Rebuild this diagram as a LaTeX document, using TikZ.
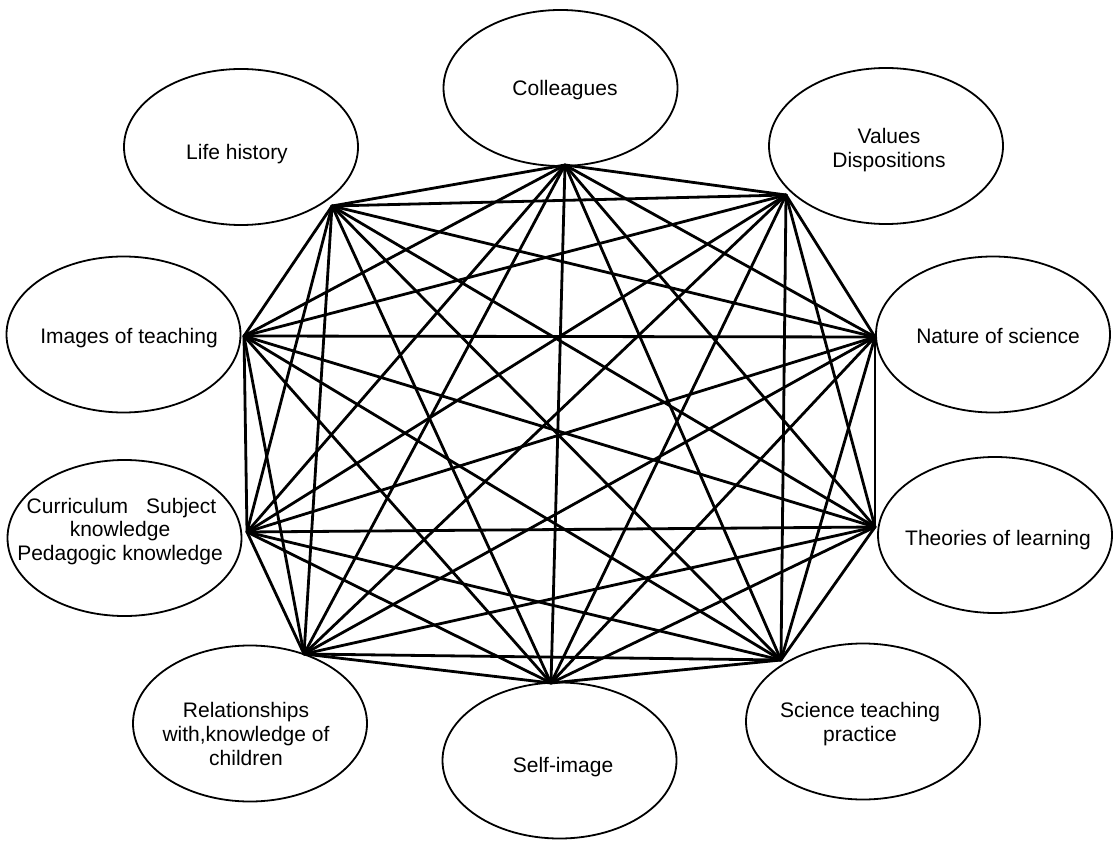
\documentclass[tikz,border=0pt]{standalone}
\usepackage{fontspec}
\setmainfont{Liberation Sans}
\usetikzlibrary{shapes.geometric}
\begin{document}
\begin{tikzpicture}[x=1pt,y=-1pt,
  bubble/.style={draw, ellipse, line width=1.8pt, minimum width=234pt, minimum height=156pt, inner sep=0pt},
  lbl/.style={anchor=base, inner sep=0pt, font=\fontsize{21}{24}\selectfont},
  edge/.style={line width=2.8pt, line cap=round}]
\useasboundingbox (0,0) rectangle (1119,842);
% ellipses
\node[bubble] (lifehist)   at (241,147)   {};
\node[bubble] (colleagues) at (560.5,88)  {};
\node[bubble] (values)     at (886,146)   {};
\node[bubble] (images)     at (123.5,334.5) {};
\node[bubble] (nature)     at (993,334.5) {};
\node[bubble] (curric)     at (124.5,538) {};
\node[bubble] (theories)   at (995,535)   {};
\node[bubble] (relations)  at (250,723.5) {};
\node[bubble] (selfimg)    at (559.5,760.5) {};
\node[bubble] (science)    at (863,721.5) {};
% labels
\node[lbl] (t1)  at (565,96)   {Colleagues};
\node[lbl] (t2)  at (237,160)  {Life history};
\node[lbl] (t3a) at (889,144)  {Values};
\node[lbl] (t3b) at (889,168)  {Dispositions};
\node[lbl] (t4)  at (129,343)  {Images of teaching};
\node[lbl] (t5)  at (998,343)  {Nature of science};
\node[lbl] (t6a) at (121.5,513) {Curriculum\hspace{18pt}Subject};
\node[lbl] (t6b) at (120,536.5) {knowledge};
\node[lbl] (t6c) at (120,560)  {Pedagogic knowledge};
\node[lbl] (t7)  at (998,545)  {Theories of learning};
\node[lbl] (t8a) at (246,717)  {Relationships};
\node[lbl] (t8b) at (246,741)  {with,knowledge of};
\node[lbl] (t8c) at (246,765)  {children};
\node[lbl] (t9)  at (563,772)  {Self-image};
\node[lbl] (t10a) at (860,717) {Science teaching};
\node[lbl] (t10b) at (860,741) {practice};
% junction points
\coordinate (v1) at (332,206);
\coordinate (v2) at (565,165);
\coordinate (v3) at (786,195);
\coordinate (v4) at (875,337);
\coordinate (v5) at (875,527);
\coordinate (v6) at (781,660);
\coordinate (v7) at (551,683);
\coordinate (v8) at (304,654);
\coordinate (v9) at (247,532);
\coordinate (v10) at (244,336);
% complete graph
\foreach \i in {1,...,9}{
  \pgfmathtruncatemacro\nxt{\i+1}
  \foreach \j in {\nxt,...,10}{
    \draw[edge] (v\i) -- (v\j);
  }
}
\end{tikzpicture}
\end{document}
